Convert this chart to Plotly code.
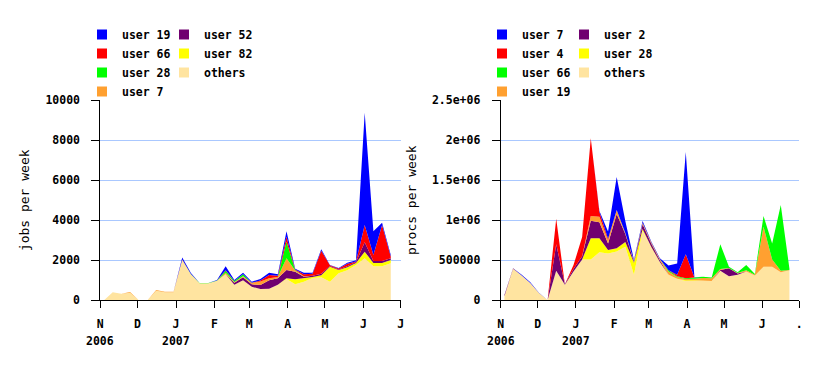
import plotly.graph_objects as go
import pandas as pd

# the page body has an 8px margin, so the figure fills the rest of the 828x366 window
OFF = 8
W, H = 828 - OFF, 366 - OFF

# ---------------- data ----------------
weeks = pd.date_range("2006-11-04", periods=34, freq="7D")

month_ticks = ["2006-11-01", "2006-12-01", "2007-01-01", "2007-02-01", "2007-03-01",
               "2007-04-01", "2007-05-01", "2007-06-01", "2007-07-01"]
month_labels_left = ["N", "D", "J", "F", "M", "A", "M", "J", "J"]
month_labels_right = ["N", "D", "J", "F", "M", "A", "M", "J", "."]
year_ticks = ["2006-11-01", "2007-01-01"]
year_labels = ["2006", "2007"]

# left chart: jobs per week
L_others = [0, 400, 330, 380, 0, 0, 480, 400, 400, 2000, 1300, 850, 850, 980, 1300, 780, 1000,
            680, 560, 580, 780, 1070, 800, 930, 1120, 1150, 930, 1350, 1500, 1770, 2100, 1700, 1700, 1850]
L_user82 = [0, 0, 0, 0, 0, 0, 0, 0, 0, 0, 0, 0, 0, 0, 0, 0, 0,
            0, 0, 0, 0, 30, 250, 170, 50, 100, 750, 160, 150, 100, 330, 170, 170, 170]
L_user52 = [0, 0, 0, 0, 0, 0, 0, 0, 0, 0, 0, 0, 0, 0, 0, 100, 150,
            120, 200, 420, 320, 420, 380, 80, 60, 80, 30, 30, 50, 40, 470, 100, 100, 80]
L_user7 = [0, 0, 0, 30, 0, 0, 30, 25, 25, 40, 0, 0, 0, 0, 80, 30, 50,
           80, 180, 100, 60, 580, 60, 20, 0, 0, 0, 0, 0, 0, 0, 0, 0, 0]
L_user28 = [0, 0, 0, 0, 0, 0, 0, 0, 0, 0, 20, 20, 20, 10, 100, 50, 100,
            0, 0, 0, 0, 830, 20, 0, 0, 0, 0, 0, 0, 0, 0, 0, 0, 0]
L_user66 = [0, 0, 0, 0, 0, 0, 0, 0, 0, 0, 0, 0, 0, 0, 20, 0, 0,
            0, 50, 170, 70, 250, 30, 100, 100, 1150, 40, 50, 130, 30, 870, 300, 1800, 80]
L_user19 = [0, 0, 0, 0, 0, 0, 0, 0, 0, 100, 50, 0, 0, 20, 200, 60, 80,
            50, 80, 110, 70, 270, 40, 80, 50, 70, 20, 20, 50, 60, 5610, 1180, 110, 90]

# right chart: procs per week
R_others = [50000, 395000, 310000, 215000, 90000, 5000, 370000, 195000, 360000, 510000, 510000,
            600000, 585000, 610000, 670000, 320000, 870000, 670000, 480000, 320000, 265000,
            240000, 245000, 245000, 240000, 370000, 300000, 320000, 360000, 310000, 420000,
            420000, 350000, 375000]
R_user28 = [0, 0, 0, 0, 0, 0, 0, 0, 0, 0, 265000, 175000, 45000, 40000, 60000, 150000, 20000,
            0, 0, 0, 5000, 10000, 5000, 0, 0, 0, 0, 0, 0, 0, 0, 0, 0, 0]
R_user2 = [15000, 5000, 0, 0, 0, 0, 330000, 5000, 30000, 40000, 220000, 200000, 80000, 430000,
           100000, 10000, 60000, 40000, 20000, 0, 0, 0, 0, 0, 0, 10000, 100000, 15000, 0, 0, 0, 0, 0, 0]
R_user19 = [0, 0, 0, 0, 0, 0, 0, 0, 0, 0, 60000, 70000, 40000, 50000, 10000, 10000, 20000,
            15000, 15000, 40000, 20000, 15000, 20000, 35000, 35000, 10000, 5000, 5000, 15000,
            10000, 500000, 90000, 20000, 5000]
R_user66 = [0, 0, 0, 0, 0, 0, 0, 0, 0, 0, 0, 0, 0, 0, 0, 0, 0, 0, 0, 15000, 10000, 10000, 15000,
            15000, 10000, 310000, 15000, 10000, 65000, 10000, 135000, 200000, 820000, 15000]
R_user4 = [0, 0, 0, 0, 0, 0, 320000, 0, 50000, 240000, 970000, 60000, 20000, 0, 0, 0, 0, 0, 0,
           0, 20000, 300000, 0, 0, 0, 0, 0, 0, 0, 0, 0, 0, 0, 0]
R_user7 = [0, 0, 8000, 12000, 5000, 0, 0, 0, 0, 0, 0, 10000, 90000, 410000, 150000, 15000, 20000,
           10000, 10000, 60000, 140000, 1280000, 3000, 0, 0, 0, 0, 0, 0, 0, 0, 0, 0, 0]

left_yticks = [0, 2000, 4000, 6000, 8000, 10000]
left_yticklabels = ["0", "2000", "4000", "6000", "8000", "10000"]
right_yticks = [0, 500000, 1000000, 1500000, 2000000, 2500000]
right_yticklabels = ["0", "500000", "1e+06", "1.5e+06", "2e+06", "2.5e+06"]

# ---------------- style ----------------
BLUE, RED, GREEN, ORANGE = "#0000FF", "#FF0000", "#00FF00", "#FFA030"
PURPLE, YELLOW, OTHERS = "#700070", "#FFFF00", "#FFE4A0"
GRID = "#AAC8FF"
FONT = "DejaVu Sans Mono"
tickfont = dict(family=FONT, size=11.5, color="black", weight="bold")

# stacking bottom -> top, legend column, colour
left_series = [("others", L_others, OTHERS, "legend2"),
               ("user 82", L_user82, YELLOW, "legend2"),
               ("user 52", L_user52, PURPLE, "legend2"),
               ("user 7", L_user7, ORANGE, "legend"),
               ("user 28", L_user28, GREEN, "legend"),
               ("user 66", L_user66, RED, "legend"),
               ("user 19", L_user19, BLUE, "legend")]
right_series = [("others", R_others, OTHERS, "legend4"),
                ("user 28", R_user28, YELLOW, "legend4"),
                ("user 2", R_user2, PURPLE, "legend4"),
                ("user 19", R_user19, ORANGE, "legend3"),
                ("user 66", R_user66, GREEN, "legend3"),
                ("user 4", R_user4, RED, "legend3"),
                ("user 7", R_user7, BLUE, "legend3")]

fig = go.Figure()

for series, xa, ya, grp in [(left_series, "x", "y", "L"), (right_series, "x2", "y2", "R")]:
    for name, vals, col, lg in series:
        fig.add_trace(go.Scatter(x=weeks, y=vals, name=name, stackgroup=grp, mode="lines",
                                 line=dict(width=0, color=col), fillcolor=col,
                                 showlegend=False, hoverinfo="skip", xaxis=xa, yaxis=ya))

# legend entries (top of legend column first)
legend_order = {"legend": ["user 19", "user 66", "user 28", "user 7"],
                "legend2": ["user 52", "user 82", "others"],
                "legend3": ["user 7", "user 4", "user 66", "user 19"],
                "legend4": ["user 2", "user 28", "others"]}
for series, xa, ya in [(left_series, "x", "y"), (right_series, "x2", "y2")]:
    lookup = {(lg, n): c for n, v, c, lg in series}
    lgs = sorted(set(lg for _, _, _, lg in series), key=lambda s: (len(s), s))
    for lg in lgs:
        for n in legend_order[lg]:
            fig.add_trace(go.Scatter(x=[None], y=[None], name=n, mode="markers",
                                     marker=dict(symbol="square", size=10, color=lookup[(lg, n)]),
                                     legend=lg, xaxis=xa, yaxis=ya, hoverinfo="skip"))

# window pixel -> paper fraction
def px_x(p):
    return (p - OFF) / W

def px_y(p):
    return 1 - (p - OFF) / H

y_dom = [px_y(300.3), px_y(100.3)]

axis_common = dict(showline=True, linecolor="black", linewidth=1, ticks="outside",
                   tickcolor="black", tickwidth=1, tickfont=tickfont, fixedrange=True,
                   automargin=False)

fig.update_layout(
    width=W, height=H, margin=dict(l=0, r=0, t=0, b=0, autoexpand=False),
    paper_bgcolor="white", plot_bgcolor="white",
    xaxis=dict(domain=[px_x(100.3), px_x(400.7)], type="date",
               range=["2006-11-01", "2007-07-01"], tickvals=month_ticks,
               ticktext=month_labels_left, ticklen=7, showgrid=False, zeroline=False,
               ticklabelstandoff=6, anchor="y", **axis_common),
    yaxis=dict(domain=y_dom, range=[0, 10000], tickvals=left_yticks,
               ticktext=left_yticklabels, ticklen=8, showgrid=True, gridcolor=GRID,
               gridwidth=1, zeroline=False, ticklabelstandoff=9, anchor="x",
               title=dict(text="jobs per week", font=dict(family=FONT, size=13, color="black"),
                          standoff=12),
               **axis_common),
    xaxis2=dict(domain=[px_x(500.7), px_x(799.3)], type="date",
                range=["2006-11-01", "2007-07-01"], tickvals=month_ticks,
                ticktext=month_labels_right, ticklen=7, showgrid=False, zeroline=False,
                ticklabelstandoff=6, anchor="y2", **axis_common),
    yaxis2=dict(domain=y_dom, range=[0, 2500000], tickvals=right_yticks,
                ticktext=right_yticklabels, ticklen=8, showgrid=True, gridcolor=GRID,
                gridwidth=1, zeroline=False, ticklabelstandoff=9, anchor="x2",
                title=dict(text="procs per week", font=dict(family=FONT, size=13, color="black"),
                           standoff=12),
                **axis_common),
    showlegend=True,
)

legend_common = dict(font=tickfont, bgcolor="rgba(0,0,0,0)", borderwidth=0,
                     itemwidth=30, tracegroupgap=0, xanchor="left", yanchor="top",
                     orientation="v", traceorder="normal",
                     itemclick=False, itemdoubleclick=False)
legend_top = px_y(20)
fig.update_layout(
    legend=dict(x=px_x(82), y=legend_top, **legend_common),
    legend2=dict(x=px_x(164), y=legend_top, **legend_common),
    legend3=dict(x=px_x(482), y=legend_top, **legend_common),
    legend4=dict(x=px_x(564), y=legend_top, **legend_common),
)

# year labels under the month ticks
for xa in ["x", "x2"]:
    for d, t in zip(year_ticks, year_labels):
        fig.add_annotation(x=d, xref=xa, y=px_y(340.7), yref="paper", text=t,
                           showarrow=False, xanchor="center", yanchor="middle",
                           font=tickfont)

fig.write_html("out.html", config={"displayModeBar": False})
